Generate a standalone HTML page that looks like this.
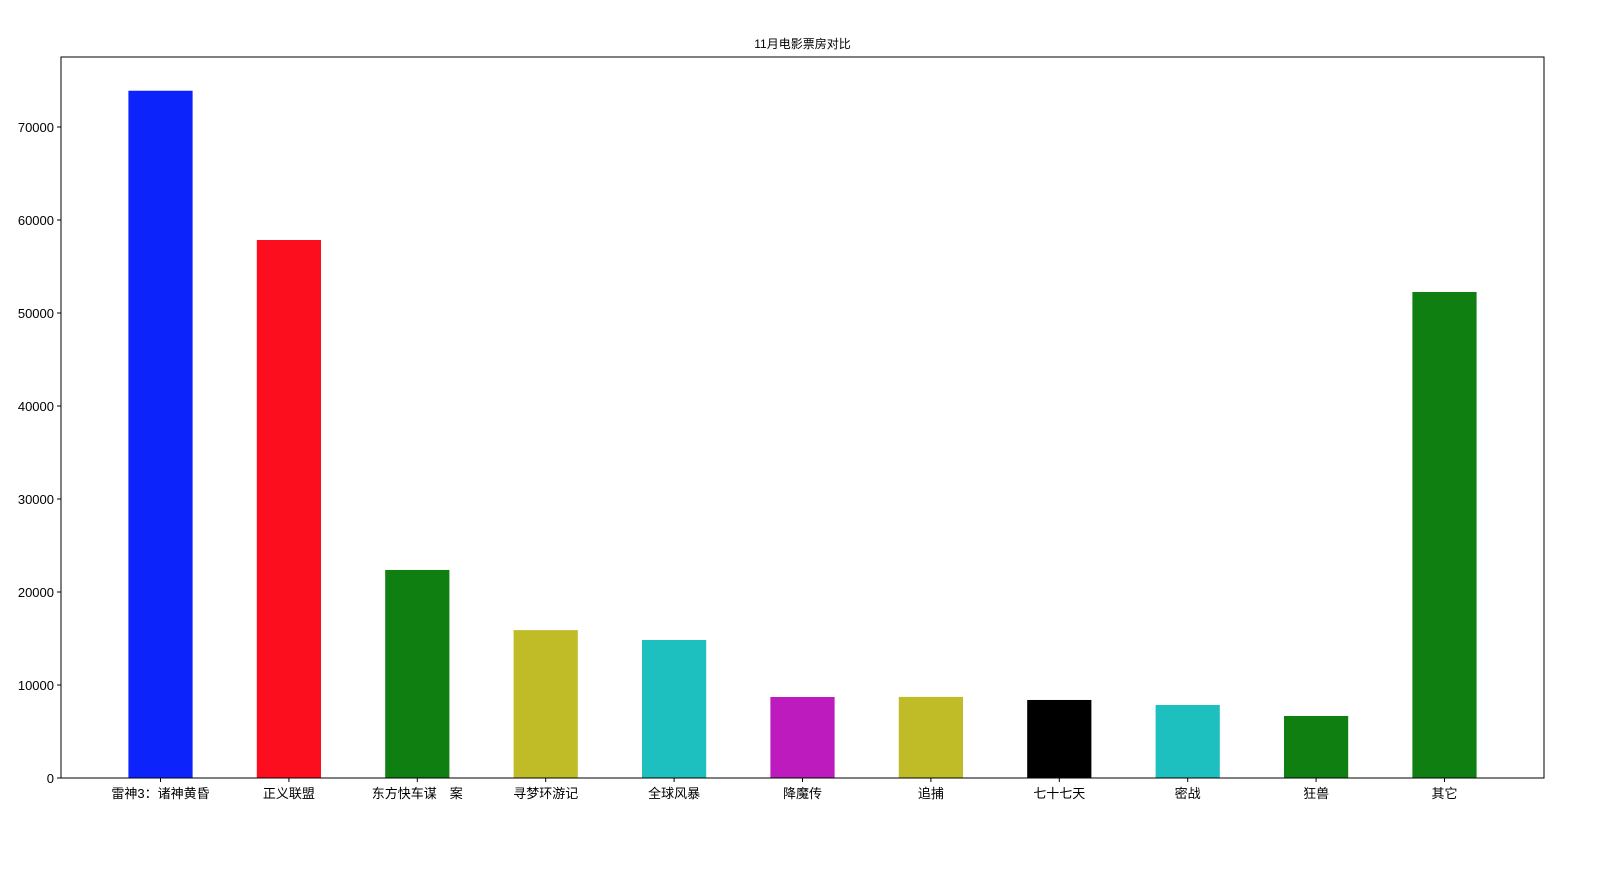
<!DOCTYPE html>
<html><head><meta charset="utf-8"><style>
html,body{margin:0;padding:0;background:#fff;}
svg{display:block;font-family:"Liberation Sans","Noto Sans CJK SC","DejaVu Sans",sans-serif;}
</style></head><body>
<svg id="chart" width="1600" height="882"></svg>
<script>
const categories=["雷神3：诸神黄昏","正义联盟","东方快车谋　案","寻梦环游记","全球风暴","降魔传","追捕","七十七天","密战","狂兽","其它"];
const values=[73900,57850,22370,15900,14840,8710,8720,8390,7850,6670,52260];
const colors=["#0c23fc","#fc0e1e","#0f7f12","#bfbc27","#1dbfbf","#bd1bbd","#bfbc27","#000000","#1dbfbf","#0f7f12","#0f7f12"];
const yTicks=[0,10000,20000,30000,40000,50000,60000,70000];
const NS="http://www.w3.org/2000/svg";
const svg=document.getElementById('chart');
const L=61,R=1544,T=57,B=778;
const x0=-0.775,x1=10.775;
function xs(v){return L+(v-x0)/(x1-x0)*(R-L);}
function ys(v){return B-v/70000*(B-127);}
function mk(tag,attrs,parent){const e=document.createElementNS(NS,tag);for(const k in attrs)e.setAttribute(k,attrs[k]);(parent||svg).appendChild(e);return e;}
const title=mk('text',{x:(L+R)/2,y:48,'text-anchor':'middle','font-size':12,fill:'#000'});
title.textContent="11月电影票房对比";


const bw=xs(0.5)-xs(0);
values.forEach((v,i)=>{
  const r=mk('rect',{x:xs(i)-bw/2,y:ys(v),width:bw,height:B-ys(v),fill:colors[i]});
  
  
  mk('line',{x1:xs(i),x2:xs(i),y1:B,y2:B+4,stroke:'#000','stroke-width':1});
  const t=mk('text',{x:xs(i),y:B+20,'text-anchor':'middle','font-size':13,fill:'#000'});
  t.textContent=categories[i];
  
  
});
yTicks.forEach(v=>{
  mk('line',{x1:L-4,x2:L,y1:ys(v),y2:ys(v),stroke:'#000','stroke-width':1});
  const t=mk('text',{x:L-7,y:ys(v)+5,'text-anchor':'end','font-size':13,fill:'#000'});
  t.textContent=v;
  
  
});
const frame=mk('rect',{x:L,y:T,width:R-L,height:B-T,fill:'none',stroke:'#000','stroke-width':1});


</script>
</body></html>
